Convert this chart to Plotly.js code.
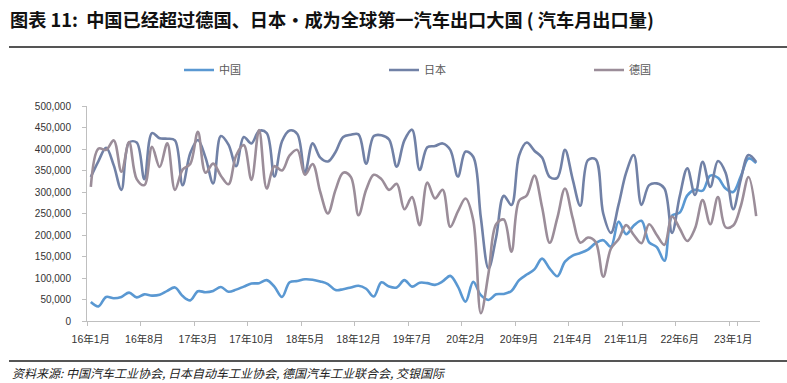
<!DOCTYPE html>
<html>
<head>
<meta charset="utf-8">
<script src="https://cdn.plot.ly/plotly-3.0.1.min.js"></script>
<style>
html,body{margin:0;padding:0;background:#fff;}
#chart{width:787px;height:383px;}
</style>
</head>
<body>
<div id="chart"></div>
<script>
var months = [
"16年1月","16年2月","16年3月","16年4月","16年5月","16年6月","16年7月","16年8月","16年9月","16年10月","16年11月","16年12月",
"17年1月","17年2月","17年3月","17年4月","17年5月","17年6月","17年7月","17年8月","17年9月","17年10月","17年11月","17年12月",
"18年1月","18年2月","18年3月","18年4月","18年5月","18年6月","18年7月","18年8月","18年9月","18年10月","18年11月","18年12月",
"19年1月","19年2月","19年3月","19年4月","19年5月","19年6月","19年7月","19年8月","19年9月","19年10月","19年11月","19年12月",
"20年1月","20年2月","20年3月","20年4月","20年5月","20年6月","20年7月","20年8月","20年9月","20年10月","20年11月","20年12月",
"21年1月","21年2月","21年3月","21年4月","21年5月","21年6月","21年7月","21年8月","21年9月","21年10月","21年11月","21年12月",
"22年1月","22年2月","22年3月","22年4月","22年5月","22年6月","22年7月","22年8月","22年9月","22年10月","22年11月","22年12月",
"23年1月","23年2月","23年3月","23年4月"];

var tickLabels = ["16年1月","16年8月","17年3月","17年10月","18年5月","18年12月","19年7月","20年2月","20年9月","21年4月","21年11月","22年6月","23年1月"];

var china = [
44000,34000,56000,53000,56000,66000,55000,62000,59000,61000,70000,78000,
58000,48000,69000,67000,70000,79000,68000,73000,80000,87000,88000,95000,
80000,56000,90000,93000,97000,96000,92000,86000,72000,74000,78000,82000,
75000,57000,90000,80000,78000,95000,80000,89000,88000,84000,92000,105000,
80000,45000,91000,60000,49000,62000,63000,70000,95000,108000,120000,145000,
122000,104000,138000,152000,158000,166000,181000,188000,173000,231000,202000,222000,
233000,183000,172000,140000,245000,252000,292000,305000,303000,338000,333000,308000,
300000,337000,378000,367000];

var japan = [
335000,372000,403000,362000,305000,415000,415000,330000,437000,425000,424000,420000,
316000,390000,421000,380000,320000,430000,410000,360000,428000,413000,442000,437000,
336000,418000,443000,435000,345000,413000,380000,371000,393000,428000,433000,434000,
366000,430000,432000,422000,359000,420000,445000,351000,404000,407000,413000,398000,
336000,394000,382000,240000,122000,195000,291000,270000,385000,415000,396000,380000,
335000,333000,398000,330000,268000,374000,376000,250000,205000,270000,345000,386000,
270000,316000,320000,308000,205000,290000,355000,293000,370000,312000,372000,345000,
260000,330000,386000,370000];

var germany = [
312000,401000,398000,420000,347000,416000,330000,316000,405000,358000,413000,305000,
352000,365000,440000,345000,366000,338000,318000,385000,409000,328000,444000,308000,
360000,350000,385000,398000,340000,365000,300000,250000,305000,345000,335000,246000,
305000,340000,330000,305000,319000,260000,288000,223000,322000,285000,305000,219000,
255000,285000,235000,18000,111000,225000,236000,161000,280000,292000,338000,265000,
182000,240000,308000,240000,182000,194000,184000,103000,168000,190000,223000,200000,
181000,225000,200000,177000,243000,215000,186000,215000,281000,225000,288000,218000,
222000,268000,335000,244000];

var names = ["中国","日本","德国"];
var colors = ["#5A98D2","#7181A6","#9B8D99"];
var series = [china, japan, germany];

var traces = series.map(function(s, k){
  return {
    x: months, y: s, name: names[k], type: "scatter", mode: "lines",
    line: {color: colors[k], width: 2.6, shape: "spline", smoothing: 1},
    hoverinfo: "skip"
  };
});

var W = 787, H = 383;
var L = 87, R = 27, T = 106, B = 62;
var pw = W - L - R, ph = H - T - B;
function px2x(p){ return (p - L) / pw; }
function py2y(p){ return (H - B - p) / ph; }

var layout = {
  width: W, height: H,
  margin: {l: L, r: R, t: T, b: B, pad: 0},
  paper_bgcolor: "#fff", plot_bgcolor: "#fff",
  font: {family: "Liberation Sans, Arial, 'Noto Sans CJK SC', sans-serif", color: "#333", size: 10},
  title: {
    text: "<b>图表 11:  中国已经超过德国、日本·成为全球第一汽车出口大国 ( 汽车月出口量)</b>",
    font: {family: "'Noto Sans CJK SC', sans-serif", size: 18.2, color: "#111"},
    xref: "container", yref: "container", x: 10 / W, xanchor: "left",
    y: 1 - 21 / H, yanchor: "middle"
  },
  showlegend: true,
  legend: {
    orientation: "h", xref: "container", yref: "container",
    x: 179 / W, xanchor: "left", y: 1 - 70 / H, yanchor: "middle",
    entrywidth: 160, entrywidthmode: "pixels",
    font: {family: "'Noto Sans CJK SC', sans-serif", size: 11, color: "#595959"},
    bgcolor: "rgba(0,0,0,0)", traceorder: "normal"
  },
  xaxis: {
    type: "category", range: [-0.5, 87.5],
    tickvals: tickLabels, ticktext: tickLabels, tickson: "boundaries",
    ticks: "outside", ticklen: 4, tickcolor: "#BFBFBF", tickwidth: 1,
    showline: true, linecolor: "#BFBFBF", linewidth: 1,
    showgrid: false, zeroline: false,
    tickfont: {family: "Liberation Sans, Arial, 'Noto Sans CJK SC', sans-serif", size: 10.5, color: "#333"},
    tickangle: 0, ticklabelstandoff: 8
  },
  yaxis: {
    range: [0, 500000], dtick: 50000, tick0: 0, tickformat: ",d",
    ticks: "outside", ticklen: 4, tickcolor: "#BFBFBF", tickwidth: 1,
    showline: true, linecolor: "#BFBFBF", linewidth: 1,
    showgrid: false, zeroline: false,
    tickfont: {family: "Liberation Sans, Arial, sans-serif", size: 10, color: "#333"},
    ticklabelstandoff: 9
  },
  shapes: [
    {type: "line", xref: "paper", yref: "paper", x0: px2x(9), x1: px2x(787), y0: py2y(47), y1: py2y(47),
     line: {color: "#555", width: 2}},
    {type: "line", xref: "paper", yref: "paper", x0: px2x(9), x1: px2x(787), y0: py2y(361), y1: py2y(361),
     line: {color: "#555", width: 2}}
  ],
  annotations: [
    {text: "<i>资料来源: 中国汽车工业协会, 日本自动车工业协会, 德国汽车工业联合会, 交银国际</i>",
     xref: "paper", yref: "paper", x: px2x(10), y: py2y(372), xanchor: "left", yanchor: "middle",
     showarrow: false, font: {family: "'Noto Sans CJK SC', sans-serif", size: 12, color: "#222"}}
  ]
};

Plotly.newPlot("chart", traces, layout, {displayModeBar: false, staticPlot: true});
</script>
</body>
</html>
